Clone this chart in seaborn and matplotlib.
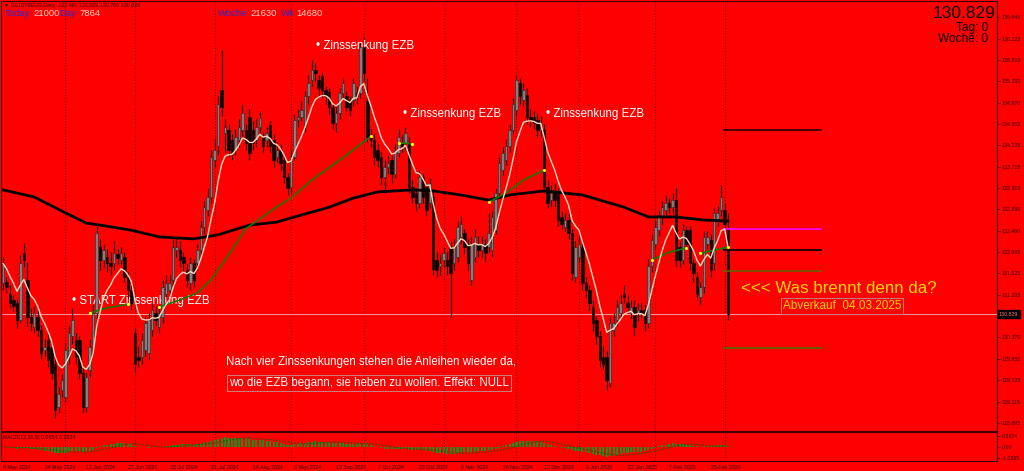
import matplotlib

matplotlib.use("Agg")
import matplotlib.pyplot as plt
import matplotlib.transforms as mtransforms
import numpy as np
import pandas as pd
import seaborn as sns


# daily candles DE10YBEUR, 8 May 2024 .. 4 Mar 2025
opens = [
    131.43, 131.45, 131.23, 131.10, 131.04, 130.71, 132.02, 131.49, 130.78, 130.58,
    130.78, 130.52, 130.12, 130.32, 130.19, 129.86, 129.01, 129.34, 129.21, 129.99,
    130.39, 130.32, 130.32, 129.67, 129.01, 129.73, 130.19, 130.84, 132.15, 131.89,
    131.95, 131.82, 131.82, 132.00, 131.89, 131.95, 131.56, 131.30, 130.45, 129.99,
    129.99, 130.12, 130.06, 130.52, 130.84, 130.58, 130.78, 131.23, 131.30, 131.49,
    132.08, 132.08, 131.95, 131.69, 131.43, 131.82, 131.82, 132.08, 132.54, 132.87,
    133.13, 133.85, 134.11, 135.22, 134.37, 134.43, 134.24, 134.04, 134.24, 134.43,
    134.43, 134.69, 134.43, 134.24, 134.50, 134.30, 134.24, 134.53, 134.24, 133.91,
    134.04, 133.84, 133.52, 133.32, 133.91, 134.63, 134.69, 134.50, 135.09, 135.41,
    135.61, 135.41, 135.48, 135.22, 135.18, 134.89, 134.56, 134.76, 135.15, 135.09,
    135.02, 135.02, 135.15, 135.15, 136.06, 135.00, 134.30, 134.24, 134.04, 133.91,
    133.52, 133.71, 133.84, 133.58, 133.98, 134.17, 134.17, 134.17, 133.32, 133.19,
    133.00, 133.52, 133.32, 133.00, 133.13, 131.89, 131.76, 131.89, 131.89, 132.15,
    131.82, 131.95, 132.34, 132.41, 132.21, 131.49, 131.95, 132.21, 132.08, 132.21,
    132.15, 132.08, 132.47, 133.19, 133.65, 133.84, 134.11, 134.43, 134.82, 135.35,
    135.02, 135.12, 134.69, 134.69, 134.63, 134.43, 134.43, 133.32, 133.06, 133.26,
    133.19, 132.73, 132.54, 132.67, 132.41, 131.56, 131.95, 132.15, 131.43, 131.30,
    130.97, 130.71, 130.39, 129.99, 129.99, 129.47, 130.52, 130.71, 130.84, 131.23,
    131.04, 130.84, 130.97, 130.84, 130.91, 130.91, 130.65, 131.76, 132.21, 132.47,
    132.73, 132.87, 133.00, 132.93, 133.06, 132.15, 131.89, 132.47, 132.47, 131.82,
    131.56, 131.17, 131.36, 132.21, 132.28, 131.82, 132.67, 132.87, 132.87, 132.491,
]
highs = [
    131.95, 131.55, 131.40, 131.20, 131.12, 131.98, 132.22, 131.85, 130.95, 130.98,
    130.90, 130.62, 130.35, 130.45, 130.30, 129.95, 129.40, 129.65, 130.25, 130.60,
    130.95, 130.45, 130.40, 129.80, 129.70, 130.35, 131.00, 132.55, 132.30, 132.20,
    132.10, 132.05, 132.25, 132.10, 132.15, 132.05, 131.65, 131.40, 130.55, 130.20,
    130.45, 130.80, 130.85, 131.05, 130.98, 131.00, 131.50, 131.60, 131.60, 132.30,
    132.35, 132.25, 132.05, 131.80, 131.95, 131.90, 132.20, 132.65, 133.05, 133.30,
    134.05, 134.25, 135.10, 135.99, 134.65, 134.55, 134.35, 134.45, 134.65, 134.95,
    134.55, 134.85, 134.60, 134.65, 134.80, 134.40, 134.50, 134.60, 134.35, 134.20,
    134.15, 133.95, 133.60, 134.05, 134.75, 134.85, 135.00, 135.20, 135.50, 135.80,
    135.75, 135.50, 135.55, 135.30, 135.25, 134.95, 134.90, 135.25, 135.45, 135.20,
    135.10, 135.45, 135.30, 136.15, 136.26, 135.45, 134.45, 134.35, 134.15, 134.00,
    133.85, 133.95, 133.95, 134.15, 134.45, 134.35, 134.50, 134.30, 133.45, 133.30,
    133.65, 133.60, 133.40, 133.50, 133.25, 132.05, 132.00, 132.15, 132.05, 132.25,
    132.30, 132.65, 132.75, 132.50, 132.30, 132.35, 132.50, 132.35, 132.35, 132.30,
    132.80, 132.85, 133.30, 133.90, 134.10, 134.25, 134.55, 135.05, 135.50, 135.45,
    135.35, 135.25, 134.85, 134.80, 134.75, 134.70, 134.55, 133.45, 133.35, 133.40,
    133.30, 132.85, 132.80, 132.80, 132.50, 132.25, 132.35, 132.25, 131.55, 131.40,
    131.10, 130.80, 130.50, 130.20, 130.10, 130.80, 130.85, 131.10, 131.20, 131.40,
    131.20, 131.10, 131.10, 131.05, 131.05, 131.00, 131.90, 132.40, 132.65, 132.85,
    133.05, 133.15, 133.10, 133.20, 133.30, 132.25, 132.60, 132.55, 132.55, 131.90,
    131.65, 131.45, 132.45, 132.45, 132.40, 132.90, 132.95, 133.35, 133.00, 132.809,
]
lows = [
    131.30, 131.25, 130.95, 130.88, 130.55, 130.65, 131.75, 130.60, 130.50, 130.45,
    130.40, 129.95, 130.00, 129.80, 129.55, 128.80, 128.90, 129.20, 129.10, 129.85,
    130.25, 129.85, 129.55, 128.90, 128.92, 129.60, 130.05, 130.75, 131.70, 131.75,
    131.65, 131.60, 131.70, 131.80, 131.80, 131.45, 131.15, 130.90, 129.70, 129.80,
    129.85, 130.00, 129.95, 130.40, 130.60, 130.45, 130.65, 131.10, 131.20, 131.40,
    131.95, 131.75, 131.65, 131.35, 131.30, 131.35, 131.70, 131.95, 132.40, 132.75,
    133.00, 133.70, 133.95, 134.70, 134.00, 133.90, 133.85, 133.95, 134.10, 134.30,
    134.05, 133.85, 134.05, 134.10, 134.40, 133.98, 134.10, 134.00, 133.70, 133.80,
    133.65, 133.40, 133.15, 133.20, 133.85, 134.50, 134.60, 134.40, 134.95, 135.30,
    135.40, 135.10, 135.05, 134.95, 134.75, 134.45, 134.40, 134.65, 135.05, 134.80,
    134.70, 134.90, 134.95, 135.05, 135.40, 134.20, 134.10, 133.75, 133.70, 133.35,
    133.20, 133.60, 133.40, 133.50, 133.90, 134.00, 134.05, 133.20, 133.00, 132.85,
    132.90, 133.00, 132.75, 132.90, 131.60, 131.55, 131.60, 131.75, 131.60, 130.78,
    131.70, 131.85, 132.20, 132.00, 131.70, 131.40, 131.85, 131.95, 131.95, 131.85,
    132.05, 131.95, 132.40, 133.10, 133.55, 133.75, 134.00, 134.35, 134.70, 134.95,
    134.90, 134.55, 134.50, 134.45, 134.30, 134.30, 133.20, 132.90, 132.95, 132.95,
    132.55, 132.50, 132.45, 132.30, 131.50, 131.45, 131.85, 131.30, 131.15, 130.90,
    130.50, 130.25, 129.80, 129.75, 129.35, 129.40, 130.40, 130.60, 130.75, 131.05,
    130.85, 130.75, 130.39, 130.70, 130.75, 130.50, 130.55, 131.65, 132.10, 132.35,
    132.60, 132.75, 132.80, 132.80, 131.75, 131.75, 131.80, 132.10, 131.70, 131.45,
    131.10, 131.00, 131.25, 132.10, 131.55, 131.70, 132.55, 132.75, 132.50, 130.709,
]
closes = [
    131.82, 131.36, 131.04, 130.98, 130.71, 131.82, 131.89, 130.78, 130.65, 130.84,
    130.52, 130.06, 130.19, 129.92, 129.67, 128.95, 129.27, 129.54, 130.12, 130.45,
    130.71, 129.99, 129.67, 129.01, 129.60, 130.19, 130.84, 132.41, 131.89, 132.08,
    131.82, 131.76, 132.02, 131.93, 132.02, 131.56, 131.30, 131.04, 129.86, 129.93,
    130.32, 130.65, 130.71, 130.91, 130.71, 130.84, 131.36, 131.43, 131.43, 132.15,
    132.15, 131.89, 131.82, 131.49, 131.82, 131.49, 132.08, 132.54, 132.93, 133.13,
    133.91, 134.04, 134.95, 134.89, 134.50, 134.04, 133.98, 134.30, 134.50, 134.76,
    134.17, 133.98, 134.17, 134.50, 134.66, 134.11, 134.37, 134.11, 133.84, 134.04,
    133.78, 133.52, 133.29, 133.91, 134.63, 134.69, 134.82, 135.09, 135.35, 135.61,
    135.54, 135.25, 135.22, 135.09, 134.89, 134.56, 134.76, 135.15, 135.35, 134.89,
    134.82, 135.35, 135.09, 136.06, 135.54, 134.30, 134.24, 133.91, 133.84, 133.52,
    133.71, 133.78, 133.58, 134.04, 134.30, 134.11, 134.37, 133.32, 133.13, 133.00,
    133.52, 133.13, 132.87, 133.39, 131.72, 131.69, 131.82, 132.02, 131.76, 131.63,
    132.15, 132.54, 132.60, 132.15, 131.82, 132.21, 132.34, 132.08, 132.21, 132.02,
    132.41, 132.73, 133.19, 133.78, 133.98, 134.11, 134.43, 134.95, 135.41, 135.09,
    135.22, 134.69, 134.63, 134.56, 134.43, 134.56, 133.32, 133.00, 133.19, 133.06,
    132.67, 132.60, 132.67, 132.41, 131.63, 132.15, 132.21, 131.43, 131.30, 131.04,
    130.65, 130.39, 129.93, 129.86, 129.54, 130.65, 130.65, 130.97, 131.04, 131.17,
    130.97, 130.97, 130.58, 130.91, 130.84, 130.65, 131.76, 132.28, 132.54, 132.73,
    132.93, 133.00, 132.93, 133.06, 131.89, 131.89, 132.47, 132.21, 131.82, 131.63,
    131.23, 131.36, 132.34, 132.34, 131.69, 132.80, 132.80, 133.13, 132.60, 130.829,
]

# 200 day MA (black), read at knots
ma200_idx = [0, 9, 18, 24, 28, 37, 45, 55, 62, 71, 79, 83, 94, 101, 108, 118,
             124, 132, 140, 146, 156, 167, 179, 186, 194, 202, 209]
ma200_val = [133.26, 133.12, 132.81, 132.61, 132.57, 132.47, 132.34, 132.30,
             132.38, 132.57, 132.63, 132.71, 132.92, 133.10, 133.22, 133.26,
             133.24, 133.16, 133.06, 133.16, 133.24, 133.16, 132.92, 132.73,
             132.73, 132.67, 132.65]

# green MA, only drawn in pieces
green_segments = [
    ([25, 30, 36], [130.85, 130.95, 131.02]),
    ([45, 50, 56, 60, 65, 70, 79, 83, 89, 99, 106],
     [130.97, 131.08, 131.24, 131.50, 131.98, 132.50, 132.93, 133.10, 133.45, 133.94, 134.31]),
    ([114, 118], [134.18, 134.16]),
    ([140, 145, 150, 156], [133.02, 133.20, 133.45, 133.65]),
    ([187, 192, 197], [131.89, 132.04, 132.12]),
    ([201, 205, 209], [132.02, 132.08, 132.14]),
]

price_ticks = [136.645, 136.223, 135.810, 135.390, 134.970, 134.555, 134.135,
               133.715, 133.300, 132.880, 132.460, 132.045, 131.625, 131.205,
               130.370, 129.950, 129.535, 129.115, 128.695]
macd_ticks = [0.9974, 0.0, -1.0385]
macd_tick_labels = ["0.9974", "0.00", "-1.0385"]

last_price = 130.829
levels = [134.43, 132.49, 132.08, 131.67, 130.16]
level_colors = ["#2a0000", "#ff00ff", "#000000", "#6b6000", "#4f6a00"]

holidays = ["2024-12-24", "2024-12-25", "2024-12-26", "2024-12-31", "2025-01-01"]


def px(x, y):
    return x / 1024, 1 - y / 471


def main() -> None:
    sns.set_theme(style="white", rc={"axes.facecolor": "#ff0000",
                                     "figure.facecolor": "#ff0000"})
    plt.rcParams["font.family"] = ["Liberation Sans", "DejaVu Sans"]

    o = np.array(opens)
    h = np.array(highs)
    l = np.array(lows)
    c = np.array(closes)
    n = len(c)
    x = np.arange(n)

    dates = pd.bdate_range("2024-05-08", "2025-03-04")
    dates = dates[~dates.isin(pd.to_datetime(holidays))][:n]
    label_idx = list(range(0, n, 12))
    date_labels = [f"{dates[i].day} {dates[i]:%b %Y}" for i in label_idx]
    month_idx = [i for i in range(1, len(dates)) if dates[i].month != dates[i - 1].month]

    fig = plt.figure(figsize=(10.24, 4.71), dpi=100)
    ax = fig.add_axes([1 / 1024, 40 / 471, 996 / 1024, 430 / 471])
    ax2 = fig.add_axes([1 / 1024, 10 / 471, 996 / 1024, 29 / 471])
    xlim = (-0.58, 286.5)

    # candles
    ax.vlines(x, l, h, color="#1a0000", lw=0.8, zorder=3)
    bull = c >= o
    bottom = np.minimum(o, c)
    height = np.maximum(np.abs(c - o), 0.02)
    ax.bar(x[bull], height[bull], bottom=bottom[bull], width=0.72,
           color="#808080", edgecolor="#2a2a2a", linewidth=0.4, zorder=4)
    ax.bar(x[~bull], height[~bull], bottom=bottom[~bull], width=0.72,
           color="#000000", edgecolor="#000000", linewidth=0.4, zorder=4)

    fast = pd.Series(c).ewm(span=8, adjust=False).mean()
    sns.lineplot(x=x, y=fast.values, ax=ax, color="#f8d8bc", lw=1.0, zorder=6)
    sns.lineplot(x=ma200_idx, y=ma200_val, ax=ax, color="#000000", lw=2.0, zorder=5)
    for sx, sy in green_segments:
        sns.lineplot(x=sx, y=sy, ax=ax, color="#157a00", lw=1.2, zorder=5)
        ax.scatter([sx[0], sx[-1]], [sy[0], sy[-1]], s=5, color="#ffff00", zorder=7, lw=0)

    ax.axhline(last_price, color="#ffb0b0", lw=0.6, zorder=2)
    ax.hlines(levels, 207.5, 236, colors=level_colors, lw=1.2, zorder=5)

    for m in month_idx:
        for a in (ax, ax2):
            a.axvline(m, color="#5a0000", lw=0.6, ls=(0, (1.5, 2.0)), zorder=1)

    ax.set_xlim(*xlim)
    ax.set_ylim(128.539, 136.958)
    ax.set_xticks([])
    ax.yaxis.tick_right()
    ax.set_yticks(price_ticks)
    ax.set_yticklabels([f"{t:.3f}" for t in price_ticks])
    ax.tick_params(axis="y", labelsize=3.8, colors="#300000", length=2, pad=1.5, width=0.5)
    ax.set_xlabel("")
    ax.set_ylabel("")

    trans = mtransforms.blended_transform_factory(ax.transAxes, ax.transData)
    ax.text(1.002, last_price, "130.829", transform=trans, ha="left", va="center",
            fontsize=3.8, color="#ff7070", clip_on=False,
            bbox=dict(boxstyle="square,pad=0.25", fc="black", ec="black"))

    # annotations
    white = dict(color="white", fontsize=8.3, va="center")
    ax.text(90.2, 136.08, "• Zinssenkung EZB", **white)
    ax.text(115.3, 134.75, "• Zinssenkung EZB", **white)
    ax.text(156.5, 134.75, "• Zinssenkung EZB", **white)
    ax.text(19.9, 131.08, "• START Zinssenkung EZB", **white)
    ax.text(64.3, 129.89, "Nach vier Zinssenkungen stehen die Anleihen wieder da,", **white)
    ax.text(65.1, 129.48, "wo die EZB begann, sie heben zu wollen. Effekt: NULL",
            bbox=dict(boxstyle="square,pad=0.15", fc="none", ec="#c88080", lw=0.7), **white)
    ax.text(212.7, 131.32, "<<< Was brennt denn da?", color="#ffd700", fontsize=12.2, va="center")
    ax.text(224.8, 130.99, "Abverkauf  04.03.2025", color="#ffd700", fontsize=8.5, va="center",
            bbox=dict(boxstyle="square,pad=0.15", fc="none", ec="#c88080", lw=0.7))

    # MACD sub window
    s = pd.Series(c)
    macd = s.ewm(span=12, adjust=False).mean() - s.ewm(span=26, adjust=False).mean()
    signal = macd.rolling(9, min_periods=1).mean()
    ax2.bar(x, macd.values, width=0.6, color="#1f8a1f", edgecolor="none", zorder=3)
    ax2.plot(x, signal.values, ls=(0, (1, 1.5)), color="#0b5c00", lw=0.9, zorder=4)
    ax2.set_xlim(*xlim)
    ax2.set_ylim(-1.36, 1.42)
    ax2.yaxis.tick_right()
    ax2.set_yticks(macd_ticks)
    ax2.set_yticklabels(macd_tick_labels)
    ax2.set_xticks(label_idx)
    ax2.set_xticklabels(date_labels, ha="left")
    ax2.tick_params(axis="both", labelsize=3.8, colors="#300000", length=2, pad=1.2, width=0.5)

    for a in (ax, ax2):
        for sp in a.spines.values():
            sp.set_color("#400000")
            sp.set_linewidth(0.8)

    # header texts
    fig.text(*px(4, 5), "▼ DE10YBEUR,Daily  132.491 132.809 130.709 130.829",
             fontsize=3.8, color="#300000", va="center")
    fig.text(*px(3, 437), "MACD(12,26,9) 0.0854 0.1034", fontsize=3.8, color="#300000", va="center")
    blue = "#2a2ad0"
    pale = "#ffd0c0"
    for xx, txt, col in [(5, "Today", blue), (33, "21000", pale), (59, "Day", blue),
                         (79, "7864", pale), (218, "Woche", blue), (250, "21630", pale),
                         (281, "Wk", blue), (296, "14680", pale)]:
        fig.text(*px(xx, 13), txt, fontsize=6.8, color=col, va="center")
    fig.text(*px(995, 13), "130.829", fontsize=12.5, color="black", ha="right", va="center")
    fig.text(*px(988, 28), "Tag: 0", fontsize=8.6, color="black", ha="right", va="center")
    fig.text(*px(988, 39), "Woche: 0", fontsize=8.6, color="black", ha="right", va="center")

    fig.savefig("out.png", dpi=100, facecolor="#ff0000")
    plt.close(fig)


if __name__ == "__main__":
    main()
